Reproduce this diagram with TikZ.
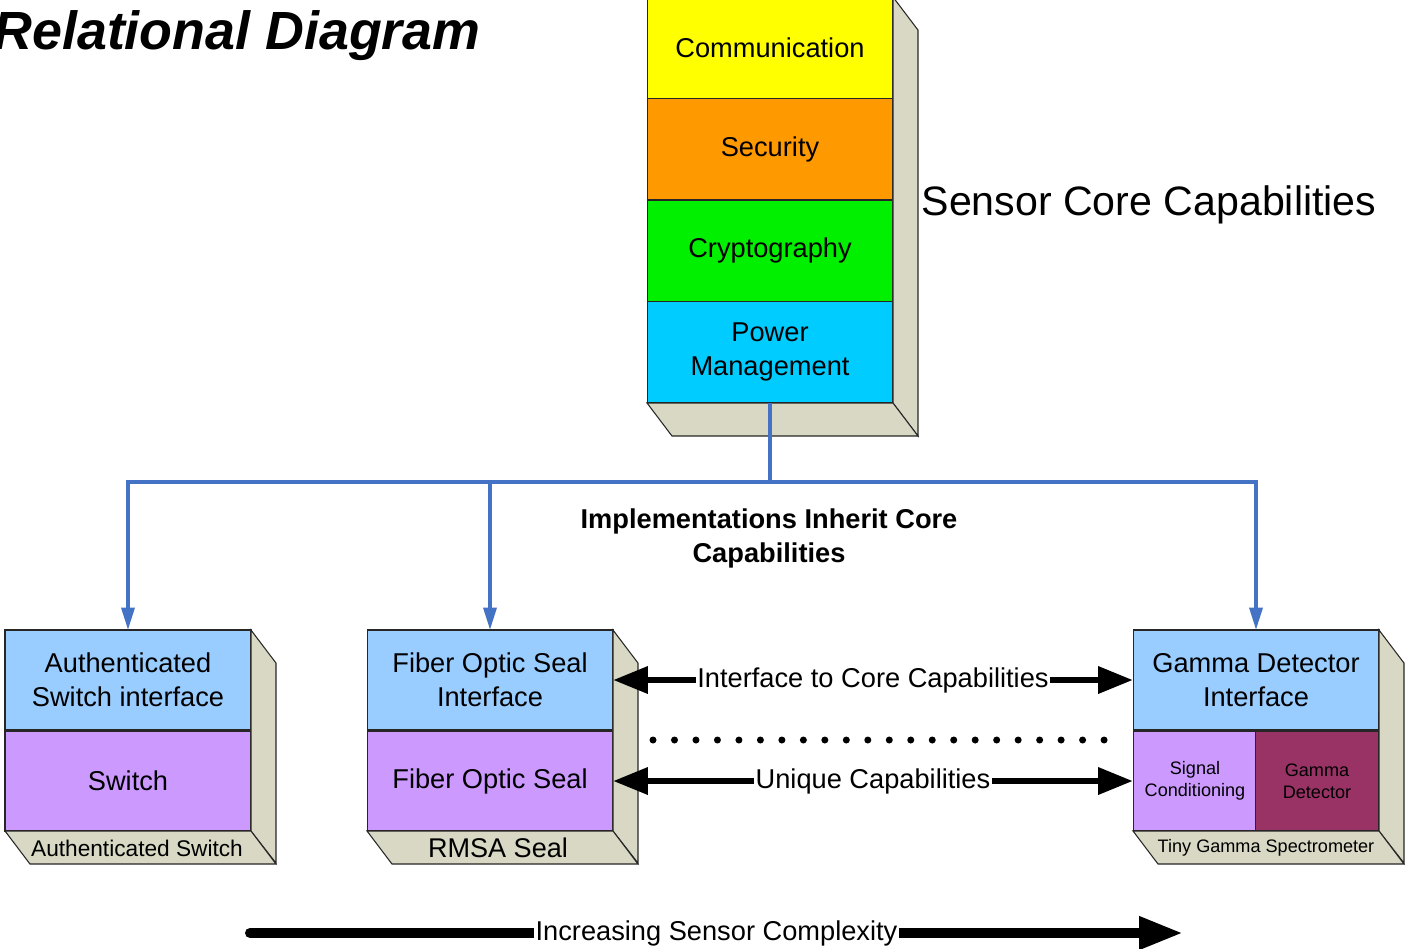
\documentclass[tikz,border=0pt]{standalone}
\usepackage{fontspec}
\setmainfont{Liberation Sans}
\usetikzlibrary{arrows.meta}
\definecolor{sideface}{RGB}{216,216,196}
\definecolor{commyellow}{RGB}{255,255,0}
\definecolor{secorange}{RGB}{255,153,0}
\definecolor{cryptgreen}{RGB}{0,240,0}
\definecolor{powcyan}{RGB}{0,204,255}
\definecolor{ifblue}{RGB}{153,204,255}
\definecolor{lilac}{RGB}{204,153,255}
\definecolor{maroon}{RGB}{153,51,102}
\definecolor{busblue}{RGB}{68,114,196}
\begin{document}
\begin{tikzpicture}[x=.02cm, y=-.02cm, line width=.6pt,
	tier/.style={draw=black!85, minimum width=4.92cm, minimum height=2.03cm, inner sep=0pt, outer sep=0pt,
		align=center, font=\fontsize{15.5}{19.3}\selectfont},
	unit/.style={tier, minimum height=2cm},
	halfunit/.style={unit, minimum width=2.48cm, font=\fontsize{10.3}{12.5}\selectfont},
	face/.style={fill=sideface, draw=black!85},
	bus/.style={draw=busblue, line width=2pt},
	busarrow/.style={bus, -{Triangle[length=.45cm,width=.26cm]}},
	dblarrow/.style={line width=3.8pt, {Triangle[length=.7cm,width=.52cm]}-{Triangle[length=.7cm,width=.52cm]}},
	arrowlabel/.style={fill=white, inner xsep=1pt, inner ysep=2pt, font=\fontsize{15.5}{19.3}\selectfont}]
	\useasboundingbox (0,0) rectangle (1416,948);

	\node[font=\fontsize{30.6}{36}\selectfont\bfseries\itshape, anchor=base west, inner sep=0pt] (title) at (-7,49) {Relational Diagram};

	\node[tier, fill=commyellow]  (comm)  at (770,47.75)  {Communication};
	\node[tier, fill=secorange]   (sec)   at (770,149.25) {Security};
	\node[tier, fill=cryptgreen]  (crypt) at (770,250.75) {Cryptography};
	\node[tier, fill=powcyan]     (pow)   at (770,352.25) {Power\\Management};
	\filldraw[face] (comm.north east) -- ++(25,33) -- ++(0,406) -- (pow.south east) -- cycle;
	\filldraw[face] (pow.south west) -- (pow.south east) -- ++(25,33) -- ++(-246,0) -- cycle;
	\node[font=\fontsize{23.4}{28}\selectfont, inner sep=0pt] (core) at (1149,205) {Sensor Core Capabilities};

	\node[unit, fill=ifblue]      (authif) at (128,680)  {Authenticated\\Switch interface};
	\node[unit, fill=lilac]       (swi)    at (128,781)  {Switch};
	\filldraw[face] (authif.north east) -- ++(25,33) -- ++(0,200) -- (swi.south east) -- cycle;
	\filldraw[face] (swi.south west) -- (swi.south east) -- ++(25,33) -- ++(-246,0) -- cycle;
	\node[font=\fontsize{12.9}{15}\selectfont, inner sep=0pt] (authlbl) at (137,848) {Authenticated Switch};

	\node[unit, fill=ifblue]      (fosif)  at (490,680)  {Fiber Optic Seal\\Interface};
	\node[unit, fill=lilac]       (fos)    at (490,781)  {Fiber Optic Seal};
	\filldraw[face] (fosif.north east) -- ++(25,33) -- ++(0,200) -- (fos.south east) -- cycle;
	\filldraw[face] (fos.south west) -- (fos.south east) -- ++(25,33) -- ++(-246,0) -- cycle;
	\node[font=\fontsize{15.4}{18}\selectfont, inner sep=0pt] (rmsa) at (498,848) {RMSA Seal};

	\node[unit, fill=ifblue]      (gdif)   at (1256,680) {Gamma Detector\\Interface};
	\node[halfunit, fill=lilac]   (sigc)   at (1195,781) {Signal\\Conditioning};
	\node[halfunit, fill=maroon]  (gdet)   at (1317,781) {Gamma\\Detector};
	\filldraw[face] (gdif.north east) -- ++(25,33) -- ++(0,200) -- (gdet.south east) -- cycle;
	\filldraw[face] (sigc.south west) -- (gdet.south east) -- ++(25,33) -- ++(-246,0) -- cycle;
	\node[font=\fontsize{10.3}{12}\selectfont, inner sep=0pt] (tgs) at (1266,848) {Tiny Gamma Spectrometer};

	\coordinate (hub) at (770,482);
	\draw[bus]      (pow.south) -- (hub);
	\draw[busarrow] (hub) -| (authif.north);
	\draw[busarrow] (hub) -| (fosif.north);
	\draw[busarrow] (hub) -| (gdif.north);
	\node[font=\fontsize{15.5}{19.3}\selectfont\bfseries, align=center, inner sep=0pt] (inherit) at (769,538)
		{Implementations Inherit Core\\Capabilities};

	\draw[dblarrow] (fosif.east) -- node[arrowlabel] (ifcore) {Interface to Core Capabilities} (gdif.west);
	\draw[dblarrow] (fos.east)   -- node[arrowlabel] (uniq)   {Unique Capabilities} (sigc.west);
	\foreach \i in {0,...,21}
		\fill (653+\i*21.48,740) circle[radius=.07cm];

	\coordinate (simple)  at (250,933);
	\coordinate (complex) at (1183,933);
	\draw[line width=5.7pt, line cap=round, -{Triangle[length=.88cm,width=.62cm]}] (simple) --
		node[arrowlabel, fill=white] (incr) {Increasing Sensor Complexity} (complex);
\end{tikzpicture}
\end{document}
